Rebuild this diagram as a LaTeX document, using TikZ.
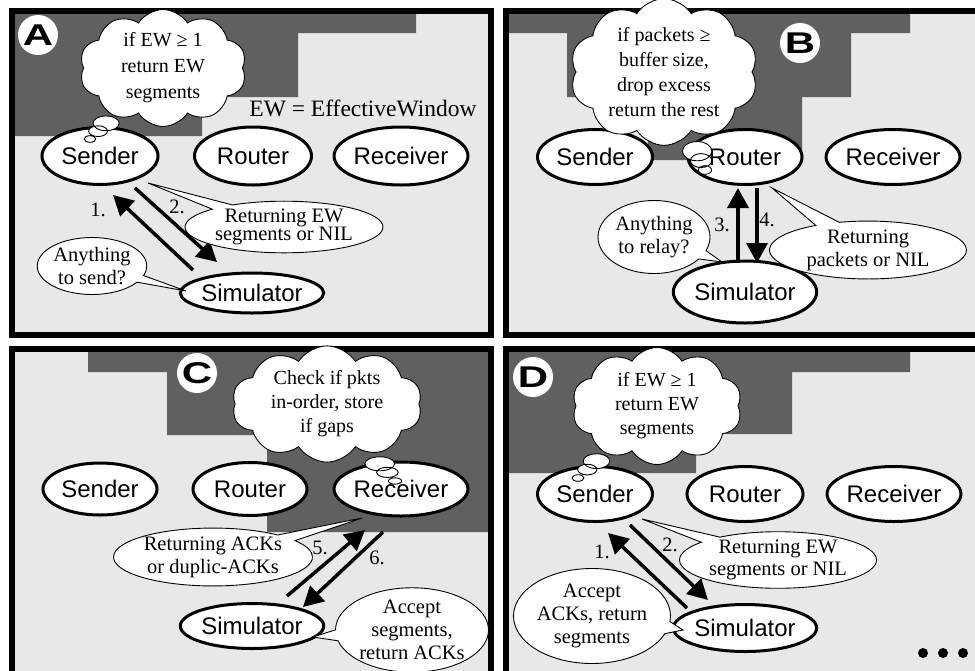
\documentclass[tikz,border=0pt]{standalone}
\usepackage{fontspec}
\usepackage{graphicx}
\setmainfont{Liberation Serif}
\newfontfamily\agentfont{Liberation Sans}
\usetikzlibrary{shapes.geometric,shapes.callouts,shapes.symbols,arrows.meta,calc}
\definecolor{paneltint}{HTML}{E8E8E8}
\definecolor{stepgray}{HTML}{606060}

\begin{document}
\begin{tikzpicture}[x=1pt,y=-1pt,
  agent/.style={ellipse,draw,line width=3pt,fill=white,inner sep=0pt,
    font=\agentfont\fontsize{24}{28}\selectfont},
  thought/.style={cloud callout,draw,line width=0.9pt,fill=white,
    cloud puffs=10,cloud puff arc=115,cloud ignores aspect,inner sep=0pt,
    align=center,font=\fontsize{20}{25}\selectfont,
    callout pointer start size=.2 of callout,
    callout pointer end size=.07 of callout,
    callout pointer segments=3},
  speech/.style={ellipse callout,draw,line width=0.9pt,fill=white,inner sep=0pt,
    align=center,font=\fontsize{20.5}{23}\selectfont},
  flow/.style={line width=3.5pt,-{Triangle[length=20pt,width=21pt]}},
  stepnum/.style={font=\fontsize{20.5}{24}\selectfont,inner sep=0pt},
  tag/.style={circle,fill=white,minimum size=40pt,inner sep=0pt,
    font=\agentfont\bfseries\fontsize{30}{30}\selectfont},
  frameline/.style={line width=6pt},
  backdrop/.style={fill=stepgray},
]
\path[use as bounding box,fill=white] (0,0) rectangle (975,670);
\clip (0,0) rectangle (975,670);

% panel backgrounds
\fill[paneltint] (11.5,11) rectangle (490.5,335);
\fill[paneltint] (505.5,11) rectangle (995,335);
\fill[paneltint] (11.5,349) rectangle (490.5,700);
\fill[paneltint] (505.5,349) rectangle (995,700);

% dark steps behind the active component
\path[backdrop] (11.5,11) -- (416,11) -- (416,33) -- (298,33) -- (298,97)
  -- (202,97) -- (202,136) -- (11.5,136) -- cycle;
\path[backdrop] (505.5,11) -- (910,11) -- (910,33) -- (851,33) -- (851,97)
  -- (802,97) -- (802,160) -- (648,160) -- (648,97) -- (567,97) -- (567,33)
  -- (505.5,33) -- cycle;
\path[backdrop] (88,349) -- (490.5,349) -- (490.5,532) -- (267,532) -- (267,435)
  -- (167,435) -- (167,372) -- (88,372) -- cycle;
\path[backdrop] (505.5,349) -- (910,349) -- (910,372) -- (792,372) -- (792,434)
  -- (696,434) -- (696,473) -- (505.5,473) -- cycle;

% panel frames
\draw[frameline] (11.5,11) rectangle (490.5,335);
\draw[frameline] (505.5,11) rectangle (995,335);
\draw[frameline] (11.5,349) rectangle (490.5,700);
\draw[frameline] (505.5,349) rectangle (995,700);

% ---------------- panel A ----------------
\node[tag] (tagA) at (38,35) {\scalebox{1.4}[1]{A}};
\node[agent,minimum width=116pt,minimum height=57pt] (sendA) at (100,156) {Sender};
\node[agent,minimum width=117pt,minimum height=58pt] (routA) at (253,156) {Router};
\node[agent,minimum width=117pt,minimum height=58pt] (recvA) at (401,156) {Receiver};
\node[agent,minimum width=118pt,minimum height=40pt] (simA) at (252,293) {Simulator};
\node[font=\fontsize{23.5}{28}\selectfont,inner sep=0pt] (ewA) at (363,108) {EW = EffectiveWindow};
\draw[flow] ($(simA)+(-59,-23)$) -- ($(sendA)+(13,39)$);
\draw[flow] ($(sendA)+(35,32)$) -- ($(simA)+(-35,-31)$);
\node[thought,minimum width=167pt,minimum height=117pt,font=\fontsize{20}{26}\selectfont,
  callout absolute pointer={($(sendA)+(-10,-17)$)}] (thA) at (163,68)
  {if EW ≥ 1\\return EW\\segments};
\node[speech,minimum width=198pt,minimum height=47pt,font=\fontsize{20.5}{18.5}\selectfont,
  callout absolute pointer={($(sendA)+(48,27)$)}] (spA1) at (284,227)
  {Returning EW\\segments or NIL};
\node[speech,minimum width=95pt,minimum height=57pt,
  callout absolute pointer={($(simA)+(-66,-2)$)}] (spA2) at (92,266)
  {Anything\\to send?};
\node[stepnum] (nA1) at (98,210) {1.};
\node[stepnum] (nA2) at (177,207) {2.};

% ---------------- panel B ----------------
\node[tag] (tagB) at (800,43) {\scalebox{1.4}[1]{B}};
\node[agent,minimum width=115pt,minimum height=55pt] (sendB) at (595,157) {Sender};
\node[agent,minimum width=114pt,minimum height=55pt] (routB) at (745,157) {Router};
\node[agent,minimum width=115pt,minimum height=55pt] (recvB) at (893,157) {Receiver};
\node[agent,minimum width=114pt,minimum height=62pt] (simB) at (745,292) {Simulator};
\draw[flow] ($(simB)+(-7,-29)$) -- ($(routB)+(-7,31)$);
\draw[flow] ($(routB)+(12,31)$) -- ($(simB)+(12,-29)$);
\node[thought,minimum width=188pt,minimum height=125pt,
  callout absolute pointer={($(routB)+(-40,13)$)}] (thB) at (664,72)
  {if packets ≥\\buffer size,\\drop excess\\return the rest};
\node[speech,minimum width=112pt,minimum height=73pt,
  callout absolute pointer={($(simB)+(-23,-30)$)}] (spB1) at (654,237)
  {Anything\\to relay?};
\node[speech,minimum width=197pt,minimum height=54pt,
  callout absolute pointer={($(routB)+(27,31)$)}] (spB2) at (868,250)
  {Returning\\packets or NIL};
\node[stepnum] (nB3) at (722,225) {3.};
\node[stepnum] (nB4) at (767,220) {4.};

% ---------------- panel C ----------------
\node[tag] (tagC) at (197,373) {\scalebox{1.4}[1]{C}};
\node[agent,minimum width=114pt,minimum height=52pt] (sendC) at (100,489) {Sender};
\node[agent,minimum width=114pt,minimum height=53pt] (routC) at (250,489) {Router};
\node[agent,minimum width=117pt,minimum height=54pt] (recvC) at (401,489) {Receiver};
\node[agent,minimum width=115pt,minimum height=45pt] (simC) at (252,626) {Simulator};
\draw[flow] ($(simC)+(35,-30)$) -- ($(recvC)+(-36,41)$);
\draw[flow] ($(recvC)+(-18,43)$) -- ($(simC)+(51,-19)$);
\node[thought,minimum width=190pt,minimum height=112pt,font=\fontsize{20}{24}\selectfont,
  callout absolute pointer={($(recvC)+(-6,-8)$)}] (thC) at (327,404)
  {Check if pkts\\in-order, store\\if gaps};
\node[speech,minimum width=199pt,minimum height=55pt,
  callout absolute pointer={($(recvC)+(-39,29)$)}] (spC1) at (213,557)
  {Returning ACKs\\or duplic-ACKs};
\node[speech,minimum width=153pt,minimum height=76pt,
  callout absolute pointer={($(simC)+(61,11)$)}] (spC2) at (412,630)
  {Accept\\segments,\\return ACKs};
\node[stepnum] (nC5) at (320,548) {5.};
\node[stepnum] (nC6) at (377,558) {6.};

% ---------------- panel D ----------------
\node[tag] (tagD) at (533,377) {\scalebox{1.4}[1]{D}};
\node[agent,minimum width=115pt,minimum height=55pt] (sendD) at (595,494) {Sender};
\node[agent,minimum width=116pt,minimum height=55pt] (routD) at (745,494) {Router};
\node[agent,minimum width=115pt,minimum height=55pt] (recvD) at (894,494) {Receiver};
\node[agent,minimum width=116pt,minimum height=47pt] (simD) at (745,628) {Simulator};
\draw[flow] ($(simD)+(-58,-20)$) -- ($(sendD)+(13,39)$);
\draw[flow] ($(sendD)+(35,31)$) -- ($(simD)+(-37,-28)$);
\node[thought,minimum width=170pt,minimum height=117pt,font=\fontsize{20}{24}\selectfont,
  callout absolute pointer={($(sendD)+(-17,-16)$)}] (thD) at (657,406)
  {if EW ≥ 1\\return EW\\segments};
\node[speech,minimum width=197pt,minimum height=56pt,font=\fontsize{20.5}{22}\selectfont,
  callout absolute pointer={($(sendD)+(47,25)$)}] (spD1) at (778,560)
  {Returning EW\\segments or NIL};
\node[speech,minimum width=157pt,minimum height=95pt,
  callout absolute pointer={($(simD)+(-62,2)$)}] (spD2) at (592,616)
  {Accept\\ACKs, return\\segments};
\node[stepnum] (nD1) at (602,552) {1.};
\node[stepnum] (nD2) at (670,545) {2.};
\foreach \dx in {923,943,963}
  \fill (\dx,653) circle (5pt);
\end{tikzpicture}
\end{document}
